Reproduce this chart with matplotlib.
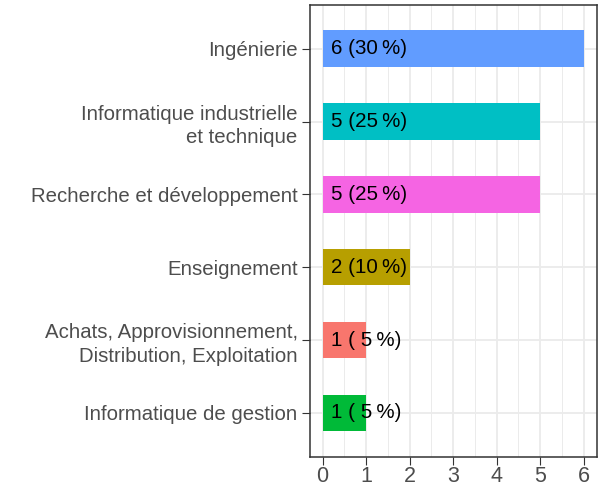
import matplotlib
matplotlib.use("Agg")
import matplotlib.pyplot as plt
import numpy as np

categories = ["Ingénierie",
              "Informatique industrielle\net technique",
              "Recherche et développement",
              "Enseignement",
              "Achats, Approvisionnement,\nDistribution, Exploitation",
              "Informatique de gestion"]
counts = [6, 5, 5, 2, 1, 1]
percents = [30, 25, 25, 10, 5, 5]
colors = ["#619CFF", "#00BFC4", "#F564E3", "#B79F00", "#F8766D", "#00BA38"]
xticks = [0, 1, 2, 3, 4, 5, 6]

plt.rcParams['font.family'] = ['Liberation Sans', 'DejaVu Sans']

fig = plt.figure(figsize=(6.03, 4.87), dpi=100)
ax = fig.add_axes([309.5/603, 1-456.7/487, (596.7-309.5)/603, (456.7-5)/487])

n = len(categories)
ypos = np.arange(n, 0, -1)

ax.barh(ypos, counts, height=0.5, color=colors, zorder=3)
for y, c, p in zip(ypos, counts, percents):
    ax.text(0.2, y, f"{c} ({p:2d}\u2009%)", ha='left', va='center',
            fontsize=14.8, color='black', zorder=4)

ax.set_xlim(-0.3, 6.3)
ax.set_ylim(0.4, n + 0.6)
ax.set_xticks(xticks)
ax.set_xticks(np.arange(0.5, 6.5, 1), minor=True)
ax.set_yticks(ypos)
ax.set_yticklabels(categories, ha='right', multialignment='right', linespacing=1.3)

ax.grid(True, which='major', color='#EBEBEB', linewidth=1.3, zorder=0)
ax.grid(True, which='minor', axis='x', color='#EBEBEB', linewidth=0.7, zorder=0)
ax.set_axisbelow(True)

for s in ax.spines.values():
    s.set_color('#333333')
    s.set_linewidth(1.1)

ax.tick_params(axis='both', which='major', length=5.5, width=0.8, color='#333333',
               labelcolor='#4D4D4D', pad=3)
ax.tick_params(axis='y', labelsize=14.7)
ax.tick_params(axis='x', labelsize=15.5, pad=1.5)
ax.tick_params(which='minor', length=0)

fig.savefig("out.png", dpi=100)
